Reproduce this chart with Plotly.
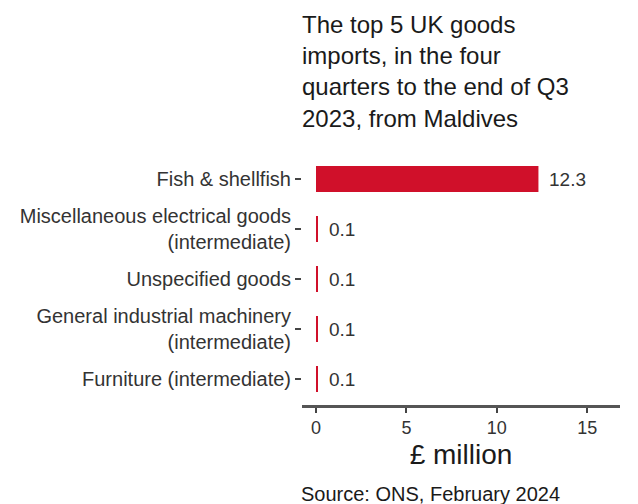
import plotly.graph_objects as go

categories = [
    "Fish & shellfish",
    "Miscellaneous electrical goods<br>(intermediate)",
    "Unspecified goods",
    "General industrial machinery<br>(intermediate)",
    "Furniture (intermediate)",
]
values = [12.3, 0.1, 0.1, 0.1, 0.1]
value_labels = ["12.3", "0.1", "0.1", "0.1", "0.1"]
x_ticks = [0, 5, 10, 15]

title_text = ("The top 5 UK goods<br>imports, in the four<br>"
              "quarters to the end of Q3<br>2023, from Maldives")

FONT = "Liberation Sans, Arial, sans-serif"
RED = "#d0102a"

fig = go.Figure()
fig.add_trace(go.Bar(
    x=values, y=categories, orientation="h",
    marker=dict(color=RED, line=dict(width=0)),
    width=0.52,
    hoverinfo="skip",
))

for v, c, t in zip(values, categories, value_labels):
    fig.add_annotation(x=v, y=c, text=t, showarrow=False, xanchor="left",
                       xshift=9, font=dict(family=FONT, size=19, color="#333333"))

fig.add_annotation(xref="paper", yref="paper", x=0.0, y=1.0, yshift=145,
                   xanchor="left", yanchor="top", align="left", xshift=-2,
                   text=title_text, showarrow=False,
                   font=dict(family=FONT, size=24, color="#1a1a1a"))

fig.add_annotation(xref="paper", yref="paper", x=0.0, y=0, yshift=-76,
                   xanchor="left", yanchor="top", align="left", xshift=-3,
                   text="Source: ONS, February 2024", showarrow=False,
                   font=dict(family=FONT, size=20, color="#1a1a1a"))

fig.update_layout(
    width=638, height=504,
    margin=dict(l=294, r=26, t=146, b=107),
    paper_bgcolor="white", plot_bgcolor="white",
    showlegend=False,
    font=dict(family=FONT, color="#333333"),
    xaxis=dict(
        range=[-0.774, 16.81], tickvals=x_ticks,
        showgrid=False, zeroline=False,
        showline=True, linecolor="#555555", linewidth=2.5,
        ticks="outside", ticklen=5, tickcolor="#444444", tickwidth=1.5,
        tickfont=dict(family=FONT, size=18, color="#333333"),
        title=dict(text="£ million", font=dict(family=FONT, size=28, color="#1a1a1a"), standoff=8),
        fixedrange=True,
    ),
    yaxis=dict(
        categoryorder="array", categoryarray=categories[::-1],
        range=[-0.52, 4.5],
        showgrid=False, zeroline=False, showline=False,
        ticks="outside", ticklen=6, tickcolor="#444444", tickwidth=1.5,
        tickfont=dict(family=FONT, size=20, color="#333333"),
        fixedrange=True,
    ),
)

fig.write_html("out.html")
